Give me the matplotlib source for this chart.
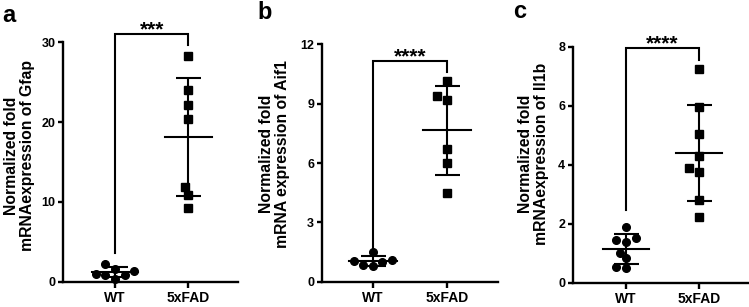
import numpy as np
import matplotlib
matplotlib.use("Agg")
import matplotlib.pyplot as plt
from matplotlib.transforms import offset_copy

plt.rcParams['font.family'] = ['Liberation Sans', 'DejaVu Sans']
plt.rcParams['font.weight'] = 'bold'

groups = ["WT", "5xFAD"]
panel_letters = ["a", "b", "c"]
ylabels = ["Normalized fold\nmRNAexpression of Gfap",
           "Normalized fold\nmRNA expression of Aif1",
           "Normalized fold\nmRNAexpression of Il1b"]
stars = ["***", "****", "****"]

gfap_wt = [1.4, 0.4, 1.6, 1.0, 0.8, 0.9, 2.2]
gfap_fad = [28.3, 24.0, 22.2, 20.4, 11.9, 10.9, 9.2]
aif1_wt = [0.85, 1.05, 1.5, 1.0, 1.1, 0.8]
aif1_fad = [10.15, 9.4, 9.2, 6.7, 6.0, 4.5]
il1b_wt = [1.9, 1.45, 1.39, 1.5, 1.02, 0.83, 0.51, 0.54]
il1b_fad = [7.24, 5.94, 5.03, 4.3, 3.75, 3.9, 2.82, 2.24]

yticks = [[0, 10, 20, 30], [0, 3, 6, 9, 12], [0, 2, 4, 6, 8]]
ymaxs = [30, 12, 8]
data = [(gfap_wt, gfap_fad), (aif1_wt, aif1_fad), (il1b_wt, il1b_fad)]
bracket_y = [31.1, 11.17, 7.95]
bracket_leg_wt = [3.6, 1.7, 2.46]
bracket_leg_fad = [29.6, 10.6, 7.55]

W, H = 749, 307
fig = plt.figure(figsize=(W / 100, H / 100), dpi=100)

# axes boxes in pixels: (left, right, top, bottom), and xlim
boxes = [(63, 238, 42.3, 281.7, (-0.71, 1.68)),
         (321.7, 498, 44.3, 281.7, (-0.69, 1.69)),
         (572.7, 748, 46.7, 282.7, (-0.73, 1.67))]
letter_pos = [(2, 21.5), (257, 19), (513, 18.5)]
ylabel_right = [35, 290, 549]


def swarm(vals, ppu_y, ppu_x, d):
    vals = np.asarray(vals, float)
    order = np.argsort(vals)
    placed = []
    offs = np.zeros(len(vals))
    cand = [0.0]
    for k in range(1, 60):
        cand += [-k * d * 0.4, k * d * 0.4]
    for i in order:
        yi = vals[i] * ppu_y
        for c in cand:
            ok = True
            for (px, py) in placed:
                if (px - c) ** 2 + (py - yi) ** 2 < (d * 1.0) ** 2:
                    ok = False
                    break
            if ok:
                offs[i] = c
                placed.append((c, yi))
                break
    return offs / ppu_x


for p in range(3):
    l, r, t, b, xl = boxes[p]
    ax = fig.add_axes([l / W, (H - b) / H, (r - l) / W, (b - t) / H])
    ax.set_xlim(*xl)
    ax.set_ylim(0, ymaxs[p])
    ppu_x = (r - l) / (xl[1] - xl[0])
    ppu_y = (b - t) / ymaxs[p]
    for s in ['top', 'right']:
        ax.spines[s].set_visible(False)
    for s in ['left', 'bottom']:
        ax.spines[s].set_linewidth(1.7)
    ax.set_xticks([0, 1])
    ax.set_xticklabels(groups, fontsize=10, fontweight='bold')
    ax.set_yticks(yticks[p])
    ax.set_yticklabels([str(v) for v in yticks[p]], fontsize=9, fontweight='bold')
    ax.tick_params(axis='both', width=1.7, length=4.5, pad=2)
    ax.tick_params(axis='y', length=3.5)

    for g, vals in enumerate(data[p]):
        offs = swarm(vals, ppu_y, ppu_x, 8.0)
        marker = 'o' if g == 0 else 's'
        ax.plot(g + offs, vals, linestyle='none', marker=marker, ms=5.5,
                color='black', clip_on=False, zorder=3)
        m = np.mean(vals)
        sd = np.std(vals, ddof=1)
        ax.plot([g - 0.32, g + 0.32], [m, m], color='black', lw=1.5, zorder=4)
        ax.errorbar([g], [m], yerr=[sd], color='black', lw=1.5, capsize=9,
                    capthick=1.5, fmt='none', zorder=4)

    # significance bracket
    ybr = bracket_y[p]
    ax.plot([0, 0, 1, 1], [bracket_leg_wt[p], ybr, ybr, bracket_leg_fad[p]],
            color='black', lw=1.5, clip_on=False, solid_joinstyle='miter')
    tr = offset_copy(ax.transData, fig=fig, x=0, y=-1.0, units='points')
    ax.text(0.5, ybr, stars[p], ha='center', va='baseline', transform=tr,
            fontsize=15, fontweight='bold', clip_on=False)

    ax.set_ylabel(ylabels[p], fontsize=11.3, fontweight='bold', linespacing=1.05)
    ax.yaxis.set_label_coords(ylabel_right[p] / W, 0.5 - (2 / H if p == 0 else 0),
                              transform=fig.transFigure)
    lx, ly = letter_pos[p]
    fig.text(lx / W, 1 - ly / H, panel_letters[p], fontsize=17, fontweight='bold')

fig.savefig("out.png", dpi=100)
